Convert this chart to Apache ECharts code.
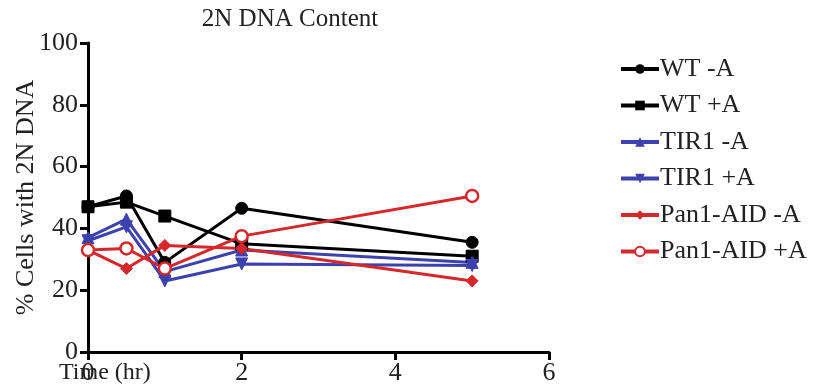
<!DOCTYPE html>
<html><head><meta charset="utf-8">
<script src="https://cdn.jsdelivr.net/npm/echarts@6/dist/echarts.min.js"></script>
<style>html,body{margin:0;padding:0;background:#fff}#c{width:814px;height:392px}</style>
</head><body><div id="c"></div>
<script>
const times = [0, 0.5, 1, 2, 5];
const wtMinus = [47, 50.5, 29, 46.5, 35.5];
const wtPlus = [47, 48.5, 44, 35, 31];
const tirMinus = [37, 43, 26, 33, 29];
const tirPlus = [36, 40.5, 23, 28.5, 28];
const panMinus = [33, 27, 34.5, 33.5, 23];
const panPlus = [33, 33.5, 27, 37.5, 50.5];
const xTicks = [0, 2, 4, 6];
const yTicks = [0, 20, 40, 60, 80, 100];

const BLACK = '#000000', BLUE = '#3b42ae', RED = '#d6282b';
const FONT = 'Liberation Serif';
function pts(v){ return times.map((t,i)=>[t, v[i]]); }
function ser(name, data, color, symbol, extra){
  return Object.assign({
    name, type:'line', data: pts(data), symbol, symbolSize: 12,
    lineStyle:{color, width:3}, itemStyle:{color, borderColor: color},
    color, z: 3
  }, extra||{});
}
const chart = echarts.init(document.getElementById('c'));
chart.setOption({
  animation:false,
  textStyle:{fontFamily:FONT},
  title:{text:'2N DNA Content', left:285, top:2, textAlign:'center',
    textStyle:{fontFamily:FONT, fontSize:25, fontWeight:'normal', color:'#222'}},
  grid:{left:88, right:265, top:43, bottom:40, containLabel:false, outerBoundsMode:'none'},
  legend:{orient:'vertical', left:614, top:51, itemWidth:38, itemHeight:12, itemGap:10.5,
    lineStyle:{width:4},
    textStyle:{fontFamily:FONT, fontSize:26, lineHeight:26, color:'#222', padding:[0,0,0,-4]},
    data:['WT -A','WT +A','TIR1 -A','TIR1 +A','Pan1-AID -A','Pan1-AID +A']},
  xAxis:{type:'value', min:xTicks[0], max:xTicks[xTicks.length-1], interval:2,
    axisLine:{lineStyle:{color:'#000', width:3}},
    axisTick:{show:true, inside:false, length:8, lineStyle:{width:3, color:'#000'}},
    axisLabel:{fontFamily:FONT, fontSize:26, color:'#222', margin:8},
    splitLine:{show:false}},
  yAxis:{type:'value', min:yTicks[0], max:yTicks[yTicks.length-1], interval:20,
    name:'% Cells with 2N DNA', nameLocation:'middle', nameGap:49, nameMoveOverlap:false,
    nameTextStyle:{fontFamily:FONT, fontSize:26, color:'#222'},
    axisLine:{show:true, lineStyle:{color:'#000', width:3}},
    axisTick:{show:true, inside:false, length:8, lineStyle:{width:3, color:'#000'}},
    axisLabel:{fontFamily:FONT, fontSize:26, color:'#222', margin:10},
    splitLine:{show:false}},
  graphic:[{type:'text', left:59, top:361, style:{text:'Time (hr)', font:'24px "Liberation Serif"', fill:'#222'}}],
  series:[
    ser('WT -A', wtMinus, BLACK, 'circle'),
    ser('WT +A', wtPlus, BLACK, 'rect'),
    ser('TIR1 -A', tirMinus, BLUE, 'triangle'),
    ser('TIR1 +A', tirPlus, BLUE, 'triangle', {symbolRotate:180}),
    ser('Pan1-AID -A', panMinus, RED, 'diamond'),
    ser('Pan1-AID +A', panPlus, RED, 'circle', {itemStyle:{color:'#fff', borderColor:RED, borderWidth:2.5}})
  ]
});
</script></body></html>
